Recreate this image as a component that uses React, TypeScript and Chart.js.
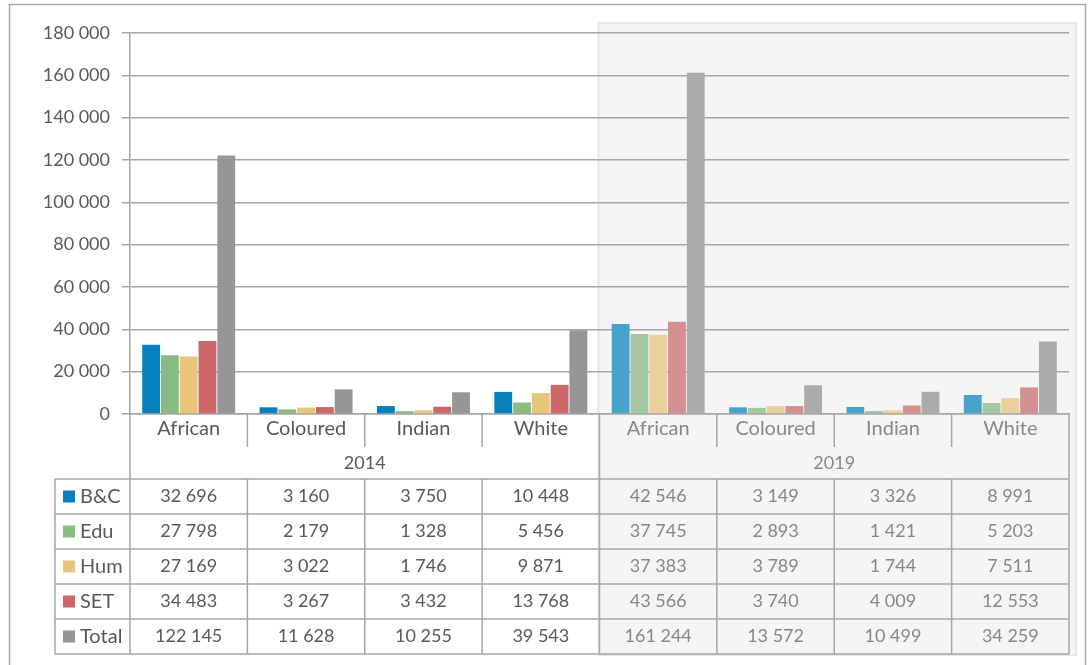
import React, { useEffect, useRef } from "react";
import { Chart, registerables } from "chart.js";

Chart.register(...registerables);

const groups = ["2014", "2019"];
const races = ["African", "Coloured", "Indian", "White"];
const categories = [...races, ...races];
const seriesNames = ["B&C", "Edu", "Hum", "SET", "Total"];
const bcValues = [32696, 3160, 3750, 10448, 42546, 3149, 3326, 8991];
const eduValues = [27798, 2179, 1328, 5456, 37745, 2893, 1421, 5203];
const humValues = [27169, 3022, 1746, 9871, 37383, 3789, 1744, 7511];
const setValues = [34483, 3267, 3432, 13768, 43566, 3740, 4009, 12553];
const totalValues = [122145, 11628, 10255, 39543, 161244, 13572, 10499, 34259];
const yTickValues = [0, 20000, 40000, 60000, 80000, 100000, 120000, 140000, 160000, 180000];

const colors2014 = ["#0880BE", "#8ABB82", "#E8C57B", "#CB6669", "#969696"];
const colors2019 = ["#48A2CD", "#A3C9A3", "#E8D19C", "#D49091", "#ABABAB"];

const seriesValues = [bcValues, eduValues, humValues, setValues, totalValues];

const LINE = "#a6a6a6";
const TEXT = "#595959";
const TEXT_LIGHT = "#878787";
const FONT = "Lato";

const fmt = (v: number) => v.toLocaleString("en-US").replace(/,/g, " ");

const layoutInfo = (chart: any) => {
  const x = chart.scales.x;
  const b = chart.chartArea.bottom;
  const cw = (x.right - x.left) / categories.length;
  const edges: number[] = [];
  for (let i = 0; i < categories.length; i++) edges.push(x.getPixelForValue(i) - cw / 2);
  edges.push(x.right);
  const headerBottom = b + 33;
  const tableTop = b + 65;
  const rowH = 35;
  const tableBottom = tableTop + rowH * seriesNames.length;
  return { x, b, cw, edges, headerBottom, tableTop, rowH, tableBottom };
};

const tablePlugin = {
  id: "dataTable",
  beforeDraw(chart: any) {
    const { ctx, chartArea } = chart;
    const L = layoutInfo(chart);
    ctx.save();
    ctx.strokeStyle = LINE;
    ctx.lineWidth = 1.5;
    ctx.strokeRect(9.5, 4.5, 1076, 700);
    const px = L.edges[4] - 1;
    const py = chartArea.top - 10;
    const pw = L.x.right + 7 - px;
    const ph = L.tableBottom + 1 - py;
    ctx.fillStyle = "#f5f5f5";
    ctx.fillRect(px, py, pw, ph);
    ctx.strokeStyle = "#e6e6e6";
    ctx.lineWidth = 2;
    ctx.strokeRect(px, py, pw, ph);
    ctx.restore();
  },
  afterDraw(chart: any) {
    const { ctx } = chart;
    const L = layoutInfo(chart);
    const line = (x1: number, y1: number, x2: number, y2: number) => {
      ctx.beginPath();
      ctx.moveTo(x1, y1);
      ctx.lineTo(x2, y2);
      ctx.stroke();
    };
    ctx.save();
    ctx.strokeStyle = LINE;
    ctx.lineWidth = 1.5;
    const legendLeft = 55;
    L.edges.forEach((e, i) => {
      if (i === 0 || i === 4 || i === categories.length) {
        line(e, L.b, e, L.tableBottom);
      } else {
        line(e, L.b, e, L.headerBottom);
        line(e, L.tableTop, e, L.tableBottom);
      }
    });
    for (let r = 0; r <= seriesNames.length; r++) {
      const y = L.tableTop + r * L.rowH;
      line(legendLeft, y, L.x.right, y);
    }
    line(legendLeft, L.tableTop, legendLeft, L.tableBottom);

    ctx.font = `18px ${FONT}`;
    ctx.textBaseline = "middle";
    ctx.textAlign = "center";
    groups.forEach((g, gi) => {
      const cx = (L.edges[gi * 4] + L.edges[gi * 4 + 4]) / 2;
      ctx.fillStyle = gi === 0 ? TEXT : TEXT_LIGHT;
      ctx.fillText(g, cx, L.b + 49);
    });

    seriesNames.forEach((name, r) => {
      const cy = L.tableTop + r * L.rowH + L.rowH / 2;
      ctx.fillStyle = colors2014[r];
      ctx.fillRect(63, cy - 6, 12, 12);
      ctx.fillStyle = TEXT;
      ctx.textAlign = "left";
      ctx.font = `20px ${FONT}`;
      ctx.fillText(name, 80, cy);
      ctx.textAlign = "center";
      ctx.font = `18px ${FONT}`;
      seriesValues[r].forEach((v, c) => {
        ctx.fillStyle = c >= 4 ? TEXT_LIGHT : TEXT;
        ctx.fillText(fmt(v), L.x.getPixelForValue(c), cy);
      });
    });
    ctx.restore();
  },
};

export default function App() {
  const ref = useRef<HTMLCanvasElement>(null);
  useEffect(() => {
    if (!ref.current) return;
    const chart = new Chart(ref.current, {
      type: "bar",
      data: {
        labels: categories,
        datasets: seriesNames.map((name, i) => ({
          label: name,
          data: seriesValues[i],
          backgroundColor: categories.map((_, c) => (c >= 4 ? colors2019[i] : colors2014[i])),
          borderWidth: 0,
          barPercentage: 0.95,
          categoryPercentage: 0.8,
        })),
      },
      options: {
        animation: false,
        responsive: true,
        maintainAspectRatio: false,
        layout: { padding: { left: 9, top: 33, right: 22, bottom: 0 } },
        plugins: { legend: { display: false }, tooltip: { enabled: false } },
        scales: {
          y: {
            min: 0,
            max: 180000,
            afterBuildTicks: (scale: any) => {
              scale.ticks = yTickValues.map((v) => ({ value: v }));
            },
            afterFit: (scale: any) => {
              scale.width = 121;
            },
            ticks: {
              color: TEXT,
              font: { family: FONT, size: 18 },
              padding: 12,
              callback: (v: any) => fmt(Number(v)),
            },
            grid: { color: LINE, lineWidth: 1.5, tickLength: 8, drawTicks: true },
            border: { display: true, color: LINE, width: 1.5 },
          },
          x: {
            afterFit: (scale: any) => {
              scale.height = 251;
            },
            ticks: {
              color: (c: any) => (c.index >= 4 ? TEXT_LIGHT : TEXT),
              font: { family: FONT, size: 20 },
              padding: 3,
              maxRotation: 0,
              autoSkip: false,
            },
            grid: { display: false, drawTicks: false },
            border: { display: true, color: LINE, width: 1.5 },
          },
        },
      },
      plugins: [tablePlugin],
    });
    return () => chart.destroy();
  }, []);
  return (
    <div style={{ position: "fixed", left: 0, top: 0, width: 1091, height: 665 }}>
      <canvas ref={ref} />
    </div>
  );
}
